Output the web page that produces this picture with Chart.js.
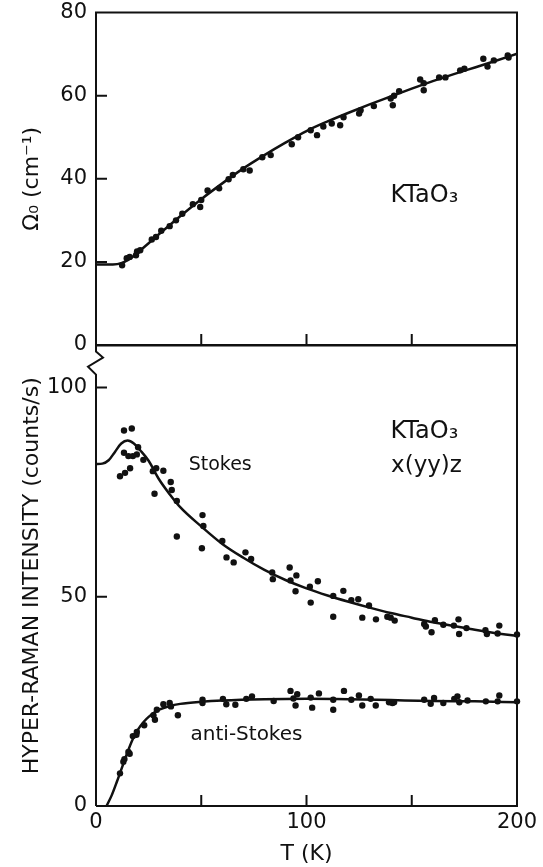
<!DOCTYPE html>
<html>
<head>
<meta charset="utf-8">
<script src="https://cdn.jsdelivr.net/npm/chart.js@4.4.0/dist/chart.umd.min.js"></script>
<style>
  html, body { margin: 0; padding: 0; background: #fff; }
  #wrap { position: relative; width: 543px; height: 867px; overflow: hidden; }
  #topChart { position: absolute; left: 0; top: -9px; }
  #botChart { position: absolute; left: 0; top: 324px; }
</style>
</head>
<body>
<div id="wrap">
  <canvas id="topChart" width="543" height="378"></canvas>
  <canvas id="botChart" width="543" height="543"></canvas>
</div>
<script>
"use strict"

const ink = '#111';
const fam = '"DejaVu Sans", sans-serif';

// top panel: soft mode frequency Omega0 (cm-1) vs T (K)
const omegaT = [12.4, 14.6, 16, 19, 19.5, 21, 26.5, 28.5, 31, 35, 38, 41, 46, 49.5, 50, 53, 58.5, 63, 65, 70,
    73, 79, 83, 93, 96, 102, 105, 108, 112, 116, 117.6, 125, 125.7, 132, 140, 141, 141.6, 144, 154, 155.7,
    155.7, 163, 166, 173, 175, 184, 186, 189, 195.6, 196];
const omegaVal = [19.2, 20.9, 21.2, 21.6, 22.5, 22.8, 25.4, 26, 27.5, 28.6, 30, 31.6, 33.9, 33.2, 34.9, 37.2, 37.7, 39.9, 40.9, 42.3,
    42, 45.2, 45.7, 48.3, 50, 51.7, 50.5, 52.6, 53.3, 52.9, 54.8, 55.7, 56.5, 57.5, 59.3, 57.7, 60, 61.1, 63.9, 61.3,
    63, 64.4, 64.4, 66.1, 66.5, 68.9, 67, 68.5, 69.7, 69.2];
const omegaFitT = [0, 8, 12, 16, 20, 25, 30, 40, 50, 60, 70, 80, 90, 100, 110, 120, 130, 140, 150, 160, 170, 180, 190, 200];
const omegaFitVal = [19.4, 19.4, 19.7, 20.7, 22.3, 24.5, 26.7, 31, 35.1, 38.9, 42.5, 45.7, 48.7, 51.5, 53.8, 55.9, 57.9, 59.8, 61.7, 63.5, 65.2, 66.8, 68.4, 70.1];

// bottom panel: hyper-Raman intensity (counts/s) vs T (K)
const stokesT = [13.3, 17, 13.3, 15.4, 17.5, 19.4, 20, 11.4, 13.8, 16.2, 22.5, 27, 28.6, 32, 27.8, 35.5, 36, 38.4, 38.4, 50.6,
    51, 50.3, 60, 62, 65.4, 71, 73.7, 83.7, 84, 92, 95.2, 92.4, 94.8, 101.6, 102, 105.4, 112.7, 112.7, 117.5, 121.3,
    124.6, 126.5, 129.7, 133, 138.4, 140, 141.9, 155.9, 156.7, 159.4, 161, 165, 170, 172.2, 172.5, 176, 185, 185.7, 190.8, 191.6, 200];
const stokesVal = [89.7, 90.2, 84.4, 83.6, 83.6, 84, 85.7, 78.8, 79.6, 80.7, 82.7, 80, 80.7, 80.1, 74.6, 77.4, 75.5, 72.9, 64.4, 69.5,
    66.9, 61.6, 63.3, 59.4, 58.2, 60.6, 59, 55.8, 54.2, 57, 55.1, 53.9, 51.3, 52.4, 48.6, 53.7, 50.2, 45.2, 51.4, 49.2,
    49.4, 45, 47.9, 44.6, 45.2, 45, 44.3, 43.5, 42.9, 41.5, 44.4, 43.3, 43.1, 44.6, 41.1, 42.5, 42, 41.1, 41.2, 43.1, 41];
const stokesFitT = [0, 3, 6, 9, 12, 15, 18, 21, 25, 30, 35, 40, 50, 60, 70, 80, 90, 100, 110, 120, 130, 140, 150, 160, 170, 180, 190, 200];
const stokesFitVal = [81.7, 81.8, 82.6, 84.6, 86.6, 87.3, 86.6, 85, 82.5, 78, 74.5, 71.4, 66.8, 62.6, 59.3, 56.4, 54, 52, 50.3, 48.8, 47.4, 46.1, 45, 43.9, 43, 42.1, 41.3, 40.6];

const antiT = [11.4, 13, 13.5, 15.4, 16, 17.5, 19.4, 19.2, 22.9, 27.3, 28, 28.9, 32, 35, 35.6, 38.9, 50.6, 50.6, 60.3, 61.9,
    66.2, 71.4, 74.1, 84.4, 92.4, 93.8, 94.8, 95.6, 102, 102.7, 105.9, 112.7, 112.7, 117.8, 121.3, 124.9, 126.5, 130.5, 132.9, 139.2,
    140.8, 141.6, 155.9, 159, 160.6, 165, 170.2, 171.7, 172.6, 176.5, 185.2, 190.8, 191.6, 200];
const antiVal = [7.8, 10.6, 11.2, 12.9, 12.5, 16.7, 17.7, 17, 19.3, 21.7, 20.6, 23, 24.3, 24.6, 23.8, 21.7, 25.4, 24.6, 25.6, 24.3,
    24.2, 25.6, 26.2, 25.1, 27.5, 25.7, 24, 26.7, 25.9, 23.5, 26.9, 25.4, 23, 27.5, 25.4, 26.4, 24, 25.6, 24, 24.8,
    24.6, 24.8, 25.4, 24.4, 25.8, 24.6, 25.6, 26.2, 24.8, 25.2, 25, 25, 26.4, 25];
const antiFitT = [5, 7.5, 10, 12.5, 15, 17.5, 20, 22.5, 25, 30, 35, 40, 50, 60, 80, 100, 120, 140, 160, 180, 200];
const antiFitVal = [0, 2.6, 5.9, 9.4, 12.9, 16, 18.3, 20, 21.3, 23, 23.9, 24.4, 24.9, 25.2, 25.5, 25.6, 25.5, 25.3, 25.1, 25, 24.8];

// tick values
const topYTicks = [0, 20, 40, 60, 80];
const botYTicks = [0, 50, 100];
const botXTicks = [0, 100, 200];
const innerXTicks = [50, 100, 150];

const pts = (xs, ys) => xs.map((v, i) => ({x: v, y: ys[i]}));

// box, inward ticks, axis break and notes
const frame = {
    id: 'frame',
    afterDatasetsDraw(chart, args, opts) {
        const {ctx, chartArea: a, scales: {x, y}} = chart;
        ctx.save();
        ctx.strokeStyle = ink;
        ctx.lineWidth = 2;
        ctx.beginPath();
        ctx.moveTo(a.left, a.bottom);
        if (opts.breakLeft) {
            const L = a.left, T = a.top;
            ctx.lineTo(L, T + 29);
            ctx.lineTo(L - 8, T + 21);
            ctx.lineTo(L + 7, T + 12);
            ctx.lineTo(L, T + 6);
        }
        ctx.lineTo(a.left, a.top);
        ctx.lineTo(a.right, a.top);
        ctx.lineTo(a.right, a.bottom);
        ctx.lineTo(a.left, a.bottom);
        innerXTicks.forEach(v => {
            const px = x.getPixelForValue(v);
            ctx.moveTo(px, a.bottom);
            ctx.lineTo(px, a.bottom - 11);
        });
        opts.yTicks.forEach(v => {
            const py = y.getPixelForValue(v);
            ctx.moveTo(a.left, py);
            ctx.lineTo(a.left + 11, py);
        });
        ctx.stroke();

        ctx.fillStyle = ink;
        ctx.textAlign = 'center';
        ctx.textBaseline = 'middle';
        opts.notes.forEach(n => {
            ctx.font = n.font;
            ctx.fillText(n.text, x.getPixelForValue(n.x), y.getPixelForValue(n.y));
        });
        ctx.restore();
    }
};

function dots(data) {
    return {data, pointRadius: 3.2, pointBackgroundColor: ink, pointBorderWidth: 0, showLine: false, clip: 5};
}

function fit(data) {
    return {data, showLine: true, borderColor: ink, borderWidth: 2.5, pointRadius: 0,
        cubicInterpolationMode: 'monotone', clip: 5};
}

function baseOptions() {
    return {
        responsive: false,
        animation: false,
        events: [],
        plugins: {legend: {display: false}, tooltip: {enabled: false}}
    };
}

// top chart
const topOpts = baseOptions();
topOpts.layout = {padding: {top: 21, right: 26, left: 0, bottom: 0}};
topOpts.scales = {
    x: {
        type: 'linear', min: 0, max: 200,
        grid: {display: false, drawTicks: false}, border: {display: false},
        ticks: {display: false},
        afterFit: s => { s.height = 24; }
    },
    y: {
        min: 0, max: 80,
        grid: {display: false, drawTicks: false}, border: {display: false},
        ticks: {color: ink, padding: 9, font: {family: fam, size: 21}},
        afterBuildTicks: s => { s.ticks = topYTicks.map(v => ({value: v})); },
        title: {display: true, text: 'Ω₀ (cm⁻¹)', color: ink, font: {family: fam, size: 22}, padding: {top: 19, bottom: 0}},
        afterFit: s => { s.width = 96; }
    }
};
topOpts.plugins.frame = {
    yTicks: [20, 40, 60],
    notes: [{text: 'KTaO₃', x: 156, y: 36, font: '24px ' + fam}]
};

new Chart(document.getElementById('topChart'), {
    type: 'scatter',
    data: {datasets: [fit(pts(omegaFitT, omegaFitVal)), dots(pts(omegaT, omegaVal))]},
    options: topOpts,
    plugins: [frame]
});

// bottom chart
const botOpts = baseOptions();
botOpts.layout = {padding: {top: 21, right: 26, left: 0, bottom: 0}};
botOpts.scales = {
    x: {
        type: 'linear', min: 0, max: 200,
        grid: {display: false, drawTicks: false}, border: {display: false},
        ticks: {color: ink, padding: 4, font: {family: fam, size: 21}},
        afterBuildTicks: s => { s.ticks = botXTicks.map(v => ({value: v})); },
        title: {display: true, text: 'T (K)', color: ink, font: {family: fam, size: 22}, padding: {top: 0, bottom: 0}},
        afterFit: s => { s.height = 61; }
    },
    y: {
        min: 0, max: 110,
        grid: {display: false, drawTicks: false}, border: {display: false},
        ticks: {color: ink, padding: 9, font: {family: fam, size: 21}},
        afterBuildTicks: s => { s.ticks = botYTicks.map(v => ({value: v})); },
        title: {display: true, text: 'HYPER-RAMAN INTENSITY (counts/s)', color: ink, font: {family: fam, size: 22}, padding: {top: 19, bottom: 0}},
        afterFit: s => { s.width = 96; }
    }
};
botOpts.plugins.frame = {
    breakLeft: true,
    yTicks: [50, 100],
    notes: [
        {text: 'KTaO₃', x: 156, y: 89.5, font: '24px ' + fam},
        {text: 'x(yy)z', x: 157, y: 81.2, font: '23px ' + fam},
        {text: 'Stokes', x: 59, y: 81.4, font: '19px ' + fam},
        {text: 'anti-Stokes', x: 71.5, y: 16.9, font: '20px ' + fam}
    ]
};

new Chart(document.getElementById('botChart'), {
    type: 'scatter',
    data: {datasets: [
        fit(pts(stokesFitT, stokesFitVal)), dots(pts(stokesT, stokesVal)),
        fit(pts(antiFitT, antiFitVal)), dots(pts(antiT, antiVal))
    ]},
    options: botOpts,
    plugins: [frame]
});
</script>
</body>
</html>
